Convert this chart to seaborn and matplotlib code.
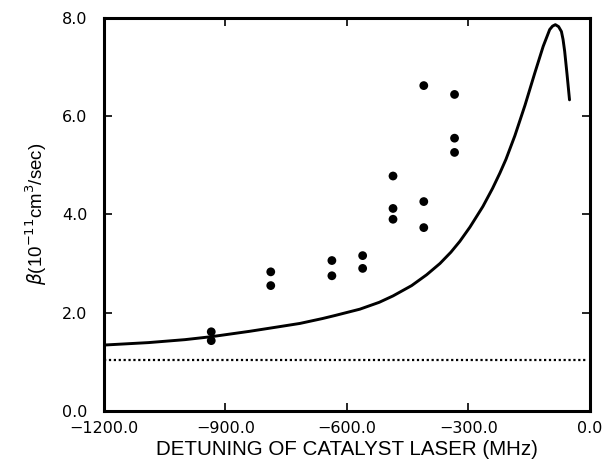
import numpy as np
import pandas as pd
import matplotlib
matplotlib.use("Agg")
import matplotlib.pyplot as plt
import seaborn as sns

# measured points (detuning in MHz, beta in 1e-11 cm^3/sec)
det_meas = [-935, -935, -788, -788, -637, -637, -561, -561,
            -486, -486, -486, -410, -410, -410, -334, -334, -334]
beta_meas = [1.61, 1.43, 2.83, 2.55, 3.06, 2.75, 3.16, 2.90,
             4.78, 4.12, 3.90, 6.62, 4.26, 3.73, 6.44, 5.55, 5.26]

# theory curve
det_theory = [-1200, -1090, -1000, -935, -840, -770, -716, -660, -630, -568,
              -520, -486, -440, -403, -370, -343, -321, -296, -264, -240,
              -222, -207, -185, -160, -136, -115, -99, -92, -85, -77,
              -70, -66, -62, -56, -50]
beta_theory = [1.34, 1.39, 1.45, 1.51, 1.62, 1.71, 1.78, 1.88, 1.94, 2.07,
               2.21, 2.34, 2.55, 2.77, 3.00, 3.23, 3.45, 3.74, 4.16, 4.53,
               4.84, 5.12, 5.60, 6.22, 6.87, 7.42, 7.76, 7.83, 7.86, 7.82,
               7.72, 7.56, 7.32, 6.84, 6.33]

# no-catalyst level (dotted)
det_base = [-1200, -5]
beta_base = [1.04, 1.04]

xticks = [-1200, -900, -600, -300, 0]
yticks = [0, 2, 4, 6, 8]

sns.set_style("ticks")
plt.rcParams['font.family'] = ['DejaVu Sans']
plt.rcParams['xtick.color'] = 'black'
plt.rcParams['ytick.color'] = 'black'
plt.rcParams['axes.labelcolor'] = 'black'
plt.rcParams['text.color'] = 'black'

fig = plt.figure(figsize=(6.08, 4.68), dpi=100)
ax = fig.add_axes([0.171, 0.122, 0.799, 0.840])

theory = pd.DataFrame({'det': det_theory, 'beta': beta_theory})
meas = pd.DataFrame({'det': det_meas, 'beta': beta_meas})
base = pd.DataFrame({'det': det_base, 'beta': beta_base})

sns.lineplot(data=theory, x='det', y='beta', ax=ax, color='black',
             linewidth=2.1, sort=False)
sns.lineplot(data=base, x='det', y='beta', ax=ax, color='black',
             linewidth=1.6, linestyle=(0, (1, 1.2)))
sns.scatterplot(data=meas, x='det', y='beta', ax=ax, color='black',
                s=40, edgecolor='none', zorder=5)

ax.set_xlim(-1200, 0)
ax.set_ylim(0, 8)
ax.set_xticks(xticks)
ax.set_yticks(yticks)

# long minus sign like the original
fmt = matplotlib.ticker.FuncFormatter(lambda v, p: f'{v:.1f}'.replace('-', '\u2212'))
ax.xaxis.set_major_formatter(fmt)
ax.yaxis.set_major_formatter(fmt)
ax.tick_params(direction='in', length=6, width=1.2, top=True, right=True,
               labelsize=11.5, colors='black')
ax.tick_params(axis='x', pad=7)
ax.tick_params(axis='y', pad=12)

for sp in ax.spines.values():
    sp.set_linewidth(2.2)
    sp.set_color('black')
    sp.set_visible(True)

ax.set_xlabel('DETUNING OF CATALYST LASER (MHz)', fontsize=14.8,
              labelpad=3, family='Liberation Sans')
ax.set_ylabel(r'$\beta$(10$^{-11}$cm$^3$/sec)', fontsize=13.4,
              labelpad=9, family='Liberation Sans')

fig.savefig('out.png', dpi=100)
